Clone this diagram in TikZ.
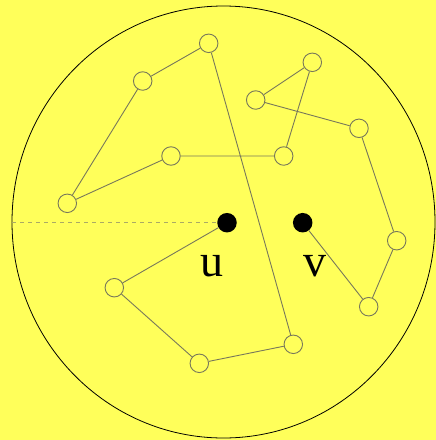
\documentclass[tikz,border=0pt]{standalone}
\usepackage{fontspec}
\setmainfont{Liberation Serif}
\definecolor{bgyellow}{RGB}{255,255,90}
\definecolor{edgegray}{RGB}{120,120,90}
\definecolor{dashgray}{RGB}{170,170,100}
\begin{document}
\begin{tikzpicture}[x=1pt,y=-1pt,
  hop/.style={draw=edgegray,circle,inner sep=0pt,minimum size=18.5pt,line width=0.9pt},
  endpt/.style={fill=black,circle,inner sep=0pt,minimum size=19.5pt},
  link/.style={draw=edgegray,line width=0.9pt},
  lbl/.style={font=\fontsize{46}{46}\selectfont}]
  \fill[bgyellow] (0,0) rectangle (436,440);
  \useasboundingbox (0,0) rectangle (436,440);
  \draw[line width=0.8pt] (223.5,222) ellipse [x radius=211.5,y radius=216];
  \coordinate (rim) at (12,222.7);
  \node[endpt] (u) at (227,222.7) {};
  \node[endpt] (v) at (302.7,222.7) {};
  \node[lbl] (lu) at (212,266) {u};
  \node[lbl] (lv) at (315,266) {v};
  \node[hop] (a) at (208.7,43.3) {};
  \node[hop] (b) at (142.7,81) {};
  \node[hop] (c) at (67.3,203.3) {};
  \node[hop] (d) at (171,156) {};
  \node[hop] (e) at (283.7,156) {};
  \node[hop] (f) at (312.3,62.3) {};
  \node[hop] (g) at (255.7,100) {};
  \node[hop] (h) at (359,128.3) {};
  \node[hop] (i) at (396.7,240.7) {};
  \node[hop] (j) at (368.7,306.7) {};
  \node[hop] (k) at (114.3,287.7) {};
  \node[hop] (l) at (199.3,363.3) {};
  \node[hop] (m) at (293.3,344.3) {};
  \draw[dashgray,line width=1pt,dash pattern=on 4pt off 4pt] (rim) -- (u);
  \draw[link] (u) -- (k) -- (l) -- (m) -- (a) -- (b) -- (c) -- (d) -- (e)
    -- (f) -- (g) -- (h) -- (i) -- (j) -- (v);
\end{tikzpicture}
\end{document}
